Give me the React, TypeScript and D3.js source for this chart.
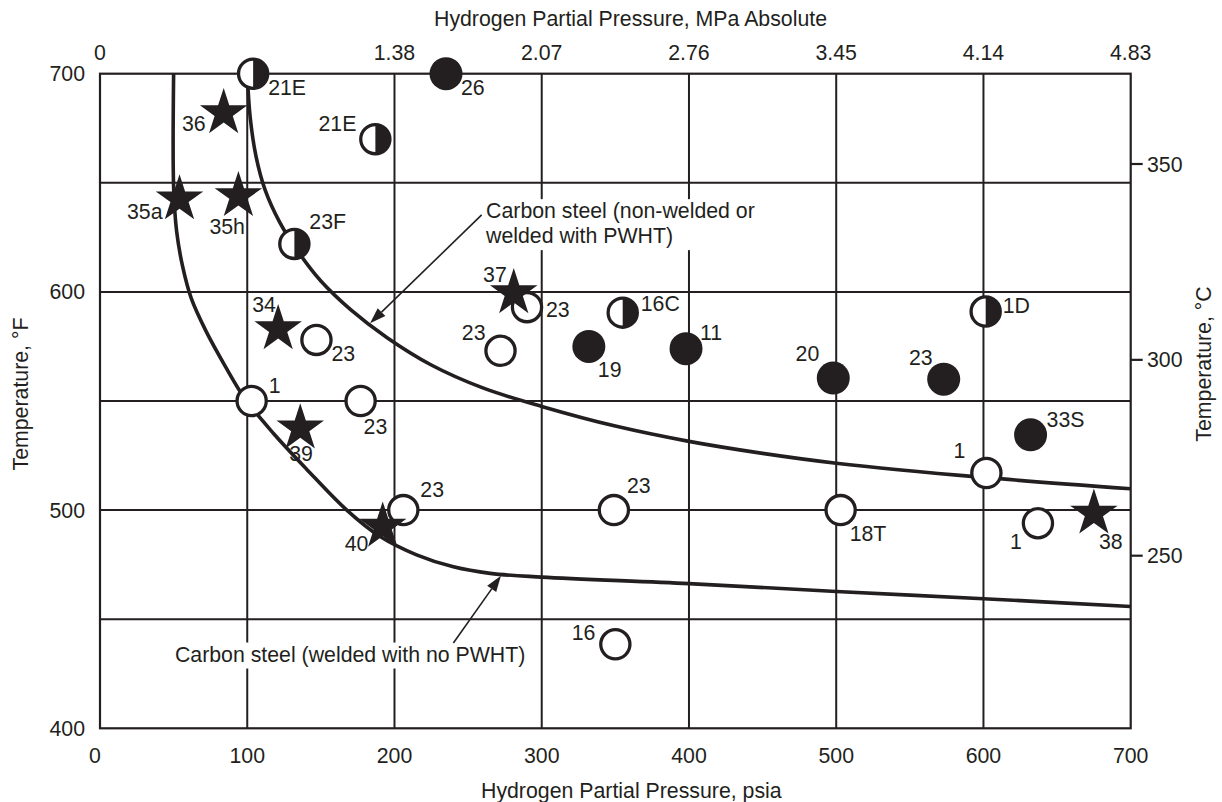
import React from "react";
import * as d3 from "d3";

const W = 1222;
const H = 802;

// axis ticks
const psiaTicks = [0, 100, 200, 300, 400, 500, 600, 700];
const mpaTickPsia = [0, 200, 300, 400, 500, 600, 700];
const mpaTickLabels = ["0", "1.38", "2.07", "2.76", "3.45", "4.14", "4.83"];
const tempFLabels = [400, 500, 600, 700];
const tempFGrid = [450, 500, 550, 600, 650];
const tempCTicks = [250, 300, 350];

// Nelson curves, [psia, °F]
const nonWeldedCurve: [number, number][] = [
  [100, 700], [102, 680], [106, 662], [112, 647], [122, 632], [135, 618],
  [150, 605], [170, 592], [195, 579], [225, 566.5], [260, 556], [300, 547.5],
  [350, 538.5], [400, 531.5], [450, 526], [500, 521.5], [600, 515], [700, 509.8],
];
const noPwhtCurve: [number, number][] = [
  [50, 700], [50, 648], [52, 628], [56, 612], [62, 597], [72, 582], [85, 566],
  [98.5, 551], [118, 535], [140, 519], [167.6, 500], [190, 488], [215, 479.5],
  [240, 474], [265, 471], [300, 469.3], [400, 466.3], [500, 462.7], [600, 459.4],
  [700, 455.8],
];

type Kind = "star" | "open" | "filled" | "half";
// operating experience points
const points: { psia: number; tempF: number; kind: Kind; label: string }[] = [
  { psia: 104, tempF: 700, kind: "half", label: "21E" },
  { psia: 84, tempF: 682, kind: "star", label: "36" },
  { psia: 187, tempF: 670, kind: "half", label: "21E" },
  { psia: 54, tempF: 642.5, kind: "star", label: "35a" },
  { psia: 94, tempF: 644, kind: "star", label: "35h" },
  { psia: 132, tempF: 622, kind: "half", label: "23F" },
  { psia: 235, tempF: 700, kind: "filled", label: "26" },
  { psia: 121, tempF: 583, kind: "star", label: "34" },
  { psia: 147, tempF: 578, kind: "open", label: "23" },
  { psia: 103, tempF: 550, kind: "open", label: "1" },
  { psia: 177, tempF: 550, kind: "open", label: "23" },
  { psia: 136, tempF: 537.5, kind: "star", label: "39" },
  { psia: 281, tempF: 599.5, kind: "star", label: "37" },
  { psia: 290, tempF: 593, kind: "open", label: "23" },
  { psia: 355, tempF: 590.5, kind: "half", label: "16C" },
  { psia: 272, tempF: 573, kind: "open", label: "23" },
  { psia: 332, tempF: 575, kind: "filled", label: "19" },
  { psia: 398, tempF: 574, kind: "filled", label: "11" },
  { psia: 498, tempF: 560.5, kind: "filled", label: "20" },
  { psia: 573, tempF: 560, kind: "filled", label: "23" },
  { psia: 601.5, tempF: 591, kind: "half", label: "1D" },
  { psia: 632, tempF: 534.5, kind: "filled", label: "33S" },
  { psia: 602, tempF: 517, kind: "open", label: "1" },
  { psia: 503, tempF: 500, kind: "open", label: "18T" },
  { psia: 637, tempF: 494, kind: "open", label: "1" },
  { psia: 675, tempF: 498.5, kind: "star", label: "38" },
  { psia: 206, tempF: 500, kind: "open", label: "23" },
  { psia: 349, tempF: 500, kind: "open", label: "23" },
  { psia: 192, tempF: 492.5, kind: "star", label: "40" },
  { psia: 350, tempF: 438.5, kind: "open", label: "16" },
];

// label placement relative to marker centre: [dx, dy, anchor]
const labelPlace: [number, number, string][] = [
  [15, 21, "start"], [-18, 18, "end"], [-19, -8, "end"], [-17, 20, "end"],
  [-29, 38, "start"], [15, -15, "start"], [15, 21, "start"], [-26, -17, "start"],
  [15, 21, "start"], [17, -8, "start"], [3, 33, "start"], [-11, 33, "start"],
  [-7, -11, "end"], [19, 10, "start"], [18, -2, "start"], [-15, -11, "end"],
  [9, 31, "start"], [14, -9, "start"], [-14, -17, "end"], [-11, -14, "end"],
  [17, 1, "start"], [16, -8, "start"], [-21, -15, "end"], [9, 31, "start"],
  [-22, 26, "middle"], [5, 36, "start"], [17, -13, "start"], [13, -17, "start"],
  [-38, 25, "start"], [-20, -4, "end"],
];

// annotations, in data coordinates
const annotations = [
  {
    lines: ["Carbon steel (non-welded or", "welded with PWHT)"],
    textAt: [262.2, 633.8] as [number, number],
    from: [259.2, 635.3] as [number, number],
    to: [183.4, 585.6] as [number, number],
  },
  {
    lines: ["Carbon steel (welded with no PWHT)"],
    textAt: [50.9, 430.6] as [number, number],
    from: [240, 439.1] as [number, number],
    to: [272.3, 469.9] as [number, number],
  },
];

const INK = "#231f20";
const FONT = "'Liberation Sans', Arial, Helvetica, sans-serif";
const FS = 21.3;

const x = d3.scaleLinear().domain([0, 700]).range([100, 1130.7]);
const y = d3.scaleLinear().domain([400, 700]).range([728.3, 73.7]);
const yC = d3.scaleLinear().domain([250, 350]).range([555.7, 164]);

const curveLine = d3
  .line<[number, number]>()
  .x((d) => x(d[0]))
  .y((d) => y(d[1]))
  .curve(d3.curveCatmullRom.alpha(0.5));

const starPath = d3.symbol().type(d3.symbolStar).size(700)()!;

const Arrow: React.FC<{ from: [number, number]; to: [number, number] }> = ({ from, to }) => {
  const x1 = x(from[0]), y1 = y(from[1]), x2 = x(to[0]), y2 = y(to[1]);
  const ang = Math.atan2(y2 - y1, x2 - x1);
  const len = 16, half = 5.5;
  const bx = x2 - len * Math.cos(ang), by = y2 - len * Math.sin(ang);
  const px = -Math.sin(ang) * half, py = Math.cos(ang) * half;
  return (
    <g>
      <line x1={x1} y1={y1} x2={bx} y2={by} stroke={INK} strokeWidth={1.6} />
      <polygon points={`${x2},${y2} ${bx + px},${by + py} ${bx - px},${by - py}`} fill={INK} />
    </g>
  );
};

const Marker: React.FC<{ kind: Kind; cx: number; cy: number }> = ({ kind, cx, cy }) => {
  const r = 14.6;
  if (kind === "star") return <path d={starPath} transform={`translate(${cx},${cy})`} fill={INK} />;
  if (kind === "filled") return <circle cx={cx} cy={cy} r={16.5} fill={INK} />;
  if (kind === "open")
    return <circle cx={cx} cy={cy} r={r} fill="#fff" stroke={INK} strokeWidth={3.3} />;
  return (
    <g>
      <circle cx={cx} cy={cy} r={r} fill="#fff" />
      <path d={`M${cx},${cy - r}A${r},${r} 0 0 1 ${cx},${cy + r}Z`} fill={INK} />
      <circle cx={cx} cy={cy} r={r} fill="none" stroke={INK} strokeWidth={3.3} />
    </g>
  );
};

export default function App() {
  // stars are drawn on top of circles
  const order = points
    .map((p, i) => ({ p, i }))
    .sort((a, b) => (a.p.kind === "star" ? 1 : 0) - (b.p.kind === "star" ? 1 : 0));

  return (
    <svg
      width={W}
      height={H}
      style={{ position: "absolute", left: 0, top: 0, background: "#fff" }}
      fontFamily={FONT}
      fontSize={FS}
      fill={INK}
    >
      {/* grid */}
      {psiaTicks.slice(1, -1).map((v) => (
        <line key={"gx" + v} x1={x(v)} x2={x(v)} y1={y(400)} y2={y(700)} stroke={INK} strokeWidth={2} />
      ))}
      {tempFGrid.map((v) => (
        <line key={"gy" + v} x1={x(0)} x2={x(700)} y1={y(v)} y2={y(v)} stroke={INK} strokeWidth={2} />
      ))}
      <rect x={x(0)} y={y(700)} width={x(700) - x(0)} height={y(400) - y(700)} fill="none" stroke={INK} strokeWidth={2.2} />

      {/* bottom axis */}
      {psiaTicks.map((v) => (
        <text key={"bx" + v} x={x(v) - (v === 0 ? 5 : 0)} y={763} textAnchor="middle">{v}</text>
      ))}
      <text x={481} y={798}>Hydrogen Partial Pressure, psia</text>

      {/* top axis */}
      {mpaTickPsia.map((v, i) => (
        <text key={"tx" + v} x={x(v)} y={60} textAnchor="middle">{mpaTickLabels[i]}</text>
      ))}
      <text x={434} y={26}>Hydrogen Partial Pressure, MPa Absolute</text>

      {/* left axis */}
      {tempFLabels.map((v) => (
        <text key={"ly" + v} x={85} y={y(v) + 7.5} textAnchor="end">{v}</text>
      ))}
      <text transform="translate(28,394) rotate(-90)" textAnchor="middle">Temperature, °F</text>

      {/* right axis */}
      {tempCTicks.map((v) => (
        <g key={"ry" + v}>
          <line x1={x(700)} x2={x(700) + 12} y1={yC(v)} y2={yC(v)} stroke={INK} strokeWidth={2.2} />
          <text x={1147} y={yC(v) + 7.5}>{v}</text>
        </g>
      ))}
      <text transform="translate(1211,364) rotate(-90)" textAnchor="middle">Temperature, °C</text>

      {/* annotation text with white backing */}
      {annotations.map((a, ai) => {
        const tx = x(a.textAt[0]);
        const ty = y(a.textAt[1]);
        const widest = Math.max(...a.lines.map((l) => l.length));
        return (
          <g key={"an" + ai}>
            <rect
              x={tx - 2}
              y={ty - 19}
              width={widest * FS * 0.5}
              height={a.lines.length * 25 + 1}
              fill="#fff"
            />
            {a.lines.map((l, li) => (
              <text key={li} x={tx} y={ty + li * 25}>{l}</text>
            ))}
          </g>
        );
      })}

      {/* curves */}
      <path d={curveLine(nonWeldedCurve)!} fill="none" stroke={INK} strokeWidth={3.6} />
      <path d={curveLine(noPwhtCurve)!} fill="none" stroke={INK} strokeWidth={3.6} />

      {annotations.map((a, ai) => (
        <Arrow key={"ar" + ai} from={a.from} to={a.to} />
      ))}

      {/* markers */}
      {order.map(({ p, i }) => (
        <Marker key={"m" + i} kind={p.kind} cx={x(p.psia)} cy={y(p.tempF)} />
      ))}
      {points.map((p, i) => {
        const [dx, dy, anchor] = labelPlace[i];
        return (
          <text key={"l" + i} x={x(p.psia) + dx} y={y(p.tempF) + dy} textAnchor={anchor as any}>
            {p.label}
          </text>
        );
      })}
    </svg>
  );
}
